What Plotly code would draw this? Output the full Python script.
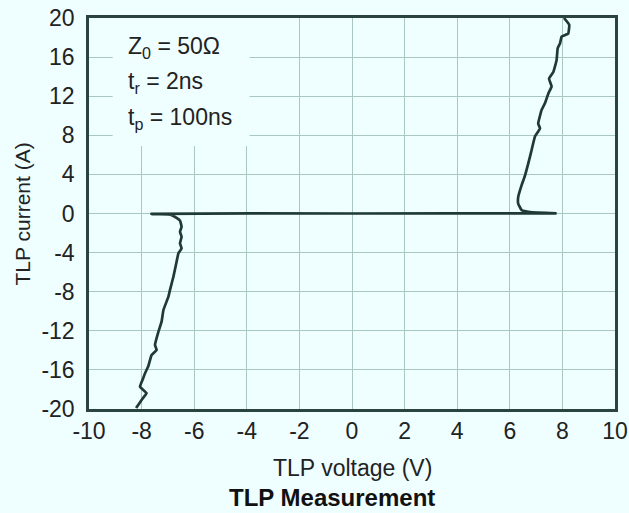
import plotly.graph_objects as go

# TLP I-V trace: negative branch, the 0 A baseline, then the positive branch
neg_v = [-8.21, -8.00, -7.81, -8.06, -7.94, -7.87, -7.75, -7.62, -7.43, -7.49,
         -7.36, -7.24, -7.17, -6.98, -6.92, -6.79, -6.67, -6.60, -6.48, -6.54,
         -6.48, -6.54, -6.48, -6.54, -6.67, -6.90, -7.62]
neg_i = [-19.9, -19.07, -18.38, -17.71, -16.85, -16.34, -15.66, -14.47, -13.96, -13.45,
         -12.09, -11.06, -9.87, -8.5, -7.82, -6.46, -4.93, -4.07, -3.56, -3.05,
         -2.37, -1.86, -1.35, -0.73, -0.45, -0.12, -0.05]

base_v = [-7.62, 0.0, 7.78]
base_i = [-0.03, 0.0, 0.02]

pos_v = [7.78, 6.77, 6.45, 6.32, 6.32, 6.45, 6.58, 6.70, 6.83, 6.96, 7.15,
         7.08, 7.21, 7.34, 7.47, 7.59, 7.49, 7.66, 7.78, 7.82, 7.91, 7.97,
         8.22, 8.26, 8.06]
pos_i = [0.02, 0.15, 0.35, 1.0, 1.7, 2.9, 3.9, 5.1, 6.5, 7.9, 8.7,
         9.2, 10.6, 11.3, 12.3, 13.0, 13.8, 14.5, 15.7, 16.9, 17.4, 18.1,
         18.4, 19.3, 20.0]

x_ticks = [-10, -8, -6, -4, -2, 0, 2, 4, 6, 8, 10]
y_ticks = [-20, -16, -12, -8, -4, 0, 4, 8, 12, 16, 20]

BG = "#effefe"
GRID = "#a9c8bf"
FRAME = "#2a4540"
INK = "#1f3a36"
TXT = "#222222"
FONT = "Liberation Sans, Arial, sans-serif"
FS = 23

fig = go.Figure()
fig.add_trace(go.Scatter(
    x=neg_v + base_v + pos_v, y=neg_i + base_i + pos_i,
    mode="lines", line=dict(color=INK, width=2.7, shape="spline", smoothing=0.3),
    hoverinfo="skip", showlegend=False,
))

axis_common = dict(
    showgrid=True, gridcolor=GRID, gridwidth=1,
    showline=True, linecolor=FRAME, linewidth=2.5, mirror=True,
    zeroline=False, ticks="", automargin=False,
    tickfont=dict(family=FONT, size=FS, color=TXT),
)

fig.update_xaxes(range=[-10, 10], tickvals=x_ticks, ticktext=[str(v) for v in x_ticks],
                 ticklabelstandoff=0, **axis_common)
fig.update_yaxes(range=[-20, 20], tickvals=y_ticks, ticktext=[str(v) for v in y_ticks],
                 ticklabelstandoff=7, **axis_common)

# Parameter box masks the grid behind the labels
fig.add_shape(type="rect", xref="x", yref="y", x0=-9.1, x1=-3.9, y0=6.9, y1=20,
              fillcolor=BG, line=dict(width=0), layer="between")

params = ["Z<sub>0</sub> = 50Ω", "t<sub>r</sub> = 2ns", "t<sub>p</sub> = 100ns"]
param_y = [17.0, 13.4, 9.7]
for txt, yy in zip(params, param_y):
    fig.add_annotation(x=-8.6, y=yy, xref="x", yref="y", text=txt, showarrow=False,
                       xanchor="left", yanchor="middle",
                       font=dict(family=FONT, size=FS, color=TXT))

fig.add_annotation(x=-0.1255, y=0.5, xref="paper", yref="paper", text="TLP current (A)",
                   showarrow=False, textangle=-90, xanchor="center", yanchor="middle",
                   font=dict(family=FONT, size=21, color=TXT))
fig.add_annotation(x=0.5, y=-0.151, xref="paper", yref="paper", text="TLP voltage (V)",
                   showarrow=False, xanchor="center", yanchor="middle",
                   font=dict(family=FONT, size=FS, color=TXT))
fig.add_annotation(x=0.462, y=-0.226, xref="paper", yref="paper", text="<b>TLP Measurement</b>",
                   showarrow=False, xanchor="center", yanchor="middle",
                   font=dict(family=FONT, size=24, color="#111111"))

fig.update_layout(
    width=629, height=513,
    margin=dict(l=89, r=14, t=18, b=104),
    paper_bgcolor=BG, plot_bgcolor=BG,
    showlegend=False,
)

fig.write_html("out.html")
